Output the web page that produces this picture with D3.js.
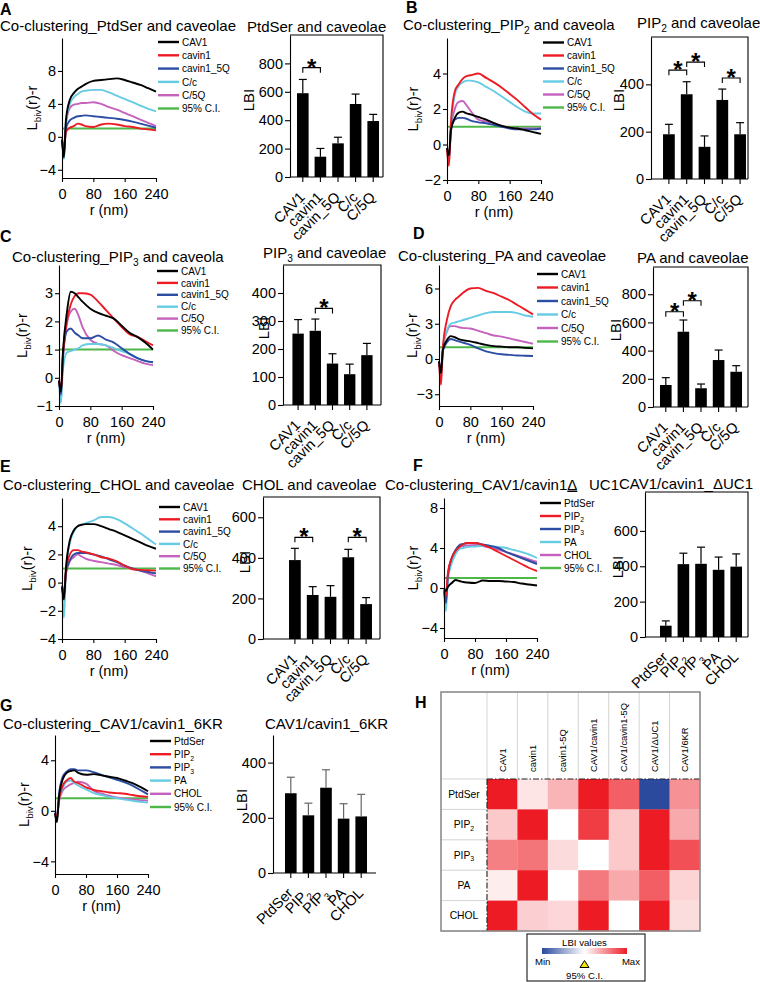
<!DOCTYPE html>
<html><head><meta charset="utf-8">
<script src="https://cdnjs.cloudflare.com/ajax/libs/d3/7.8.5/d3.min.js"></script>
<style>body{margin:0;background:#fff} svg{display:block}</style>
</head><body><svg id="c" width="760" height="982"></svg>
<script>
// ---------------- DATA ----------------
const R_NM = [0,5,10,20,30,40,50,60,80,100,120,140,160,180,200,220,240];
const CI_LEVEL = 1;
const xTicksLine = [0,80,160,240];
const cavLegend = ["CAV1","cavin1","cavin1_5Q","C/c","C/5Q"];
const lipLegend = ["PtdSer","PIP{2}","PIP{3}","PA","CHOL"];
const ciLabel = "95% C.I.";
const cavBarCats = ["CAV1","cavin1","cavin_5Q","C/c","C/5Q"];
const lipBarCats = ["PtdSer","PIP{2}","PIP{3}","PA","CHOL"];

const lineA = [
 [-0.4,-2.5,2.0,4.5,5.3,5.8,6.1,6.4,6.8,6.9,7.0,7.1,6.9,6.6,6.3,5.9,5.5],
 [-0.2,-1.5,0.6,1.1,1.3,1.6,1.5,1.3,1.2,1.5,1.6,1.5,1.3,1.2,1.0,0.9,0.8],
 [-0.3,-2.0,1.0,2.0,2.3,2.5,2.55,2.6,2.5,2.4,2.3,2.2,2.05,1.85,1.6,1.35,1.1],
 [-0.5,-2.7,1.8,4.0,4.8,5.2,5.5,5.6,5.7,5.7,5.4,5.0,4.6,4.2,3.8,3.4,3.1],
 [-0.3,-2.0,1.5,3.5,3.9,4.0,4.1,4.1,4.2,4.0,3.6,3.3,2.9,2.5,2.1,1.7,1.3]];
const lineB = [
 [-0.2,-0.6,0.8,1.5,1.8,1.85,1.75,1.7,1.55,1.4,1.2,1.05,0.95,0.9,0.8,0.7,0.6],
 [-0.3,-1.2,1.2,3.0,3.4,3.7,3.85,3.9,4.0,3.75,3.5,3.2,2.85,2.5,2.1,1.7,1.4],
 [-0.2,-0.8,0.8,1.4,1.5,1.5,1.45,1.35,1.25,1.2,1.1,1.0,0.9,0.85,0.85,0.85,0.9],
 [-0.3,-1.0,1.0,2.8,3.3,3.5,3.6,3.6,3.5,3.25,3.0,2.7,2.4,2.1,1.85,1.75,1.75],
 [-0.2,-0.8,0.9,2.0,2.4,2.45,2.2,1.9,1.4,1.3,1.2,1.05,0.95,0.9,0.9,0.9,0.9]];
const lineC = [
 [-0.1,-0.5,0.9,2.3,3.05,3.0,2.85,2.7,2.45,2.3,2.2,2.1,1.85,1.6,1.45,1.25,1.0],
 [-0.1,-0.5,0.8,2.0,2.6,2.9,3.0,3.0,2.95,2.7,2.4,2.1,1.8,1.55,1.45,1.3,1.15],
 [-0.1,-0.6,0.7,1.65,1.75,1.6,1.5,1.4,1.4,1.5,1.35,1.25,1.05,0.85,0.7,0.6,0.55],
 [-0.1,-0.9,0.3,0.9,0.95,1.0,1.05,1.15,1.2,1.2,1.15,1.05,0.95,0.85,0.7,0.6,0.55],
 [-0.1,-0.6,0.7,1.9,2.35,2.45,2.2,1.8,1.35,1.2,1.15,0.95,0.8,0.7,0.6,0.5,0.45]];
const lineD = [
 [-0.2,-1.2,0.8,1.6,1.95,1.85,1.7,1.6,1.5,1.35,1.2,1.1,1.05,1.0,1.0,0.95,0.9],
 [-0.3,-2.2,1.0,3.3,4.5,5.0,5.3,5.6,6.0,6.05,5.8,5.6,5.3,5.0,4.6,4.2,3.8],
 [-0.2,-1.0,0.7,1.4,1.7,1.6,1.5,1.4,1.2,0.9,0.65,0.5,0.4,0.35,0.3,0.28,0.25],
 [-0.2,-1.5,1.0,2.4,3.0,3.1,3.2,3.3,3.5,3.7,3.9,4.0,4.0,4.0,3.9,3.7,3.6],
 [-0.2,-1.2,0.9,2.3,2.8,2.8,2.7,2.65,2.6,2.4,2.2,2.0,1.9,1.75,1.6,1.45,1.3]];
const lineE = [
 [-0.3,-1.2,1.0,3.0,3.7,4.0,4.1,4.15,4.15,4.0,3.8,3.6,3.35,3.1,2.85,2.6,2.4],
 [-0.2,-0.8,0.8,2.0,2.3,2.3,2.2,2.15,2.0,1.8,1.7,1.5,1.2,0.95,0.9,0.88,0.85],
 [-0.3,-1.0,0.7,1.6,2.0,2.1,2.1,2.1,2.0,1.85,1.65,1.45,1.2,1.0,0.85,0.75,0.65],
 [-0.4,-2.5,0.8,2.8,3.6,4.0,4.1,4.2,4.4,4.65,4.65,4.5,4.2,3.85,3.5,3.1,2.7],
 [-0.2,-0.7,0.6,1.5,1.8,2.0,1.85,1.7,1.55,1.45,1.35,1.25,1.1,1.0,0.85,0.65,0.45]];
const lineF = [
 [0.0,-0.3,0.1,0.5,0.8,0.7,0.6,0.55,0.5,0.75,0.7,0.7,0.65,0.6,0.45,0.35,0.25],
 [-0.2,-0.8,1.5,3.0,3.7,4.1,4.4,4.5,4.5,4.3,4.0,3.6,3.2,2.8,2.4,2.0,1.7],
 [-0.3,-1.5,1.2,3.0,3.8,4.3,4.4,4.5,4.5,4.35,4.2,4.0,3.6,3.3,3.0,2.7,2.4],
 [-0.4,-2.3,0.8,2.5,3.4,3.9,4.0,4.1,4.15,4.2,4.2,4.1,4.0,3.8,3.6,3.35,3.0],
 [-0.3,-1.2,1.2,3.0,3.8,4.1,4.2,4.25,4.3,4.2,4.05,3.85,3.6,3.35,3.1,2.85,2.6]];
const lineG = [
 [-0.2,-0.9,1.0,2.5,3.0,3.15,3.2,3.0,2.85,2.9,2.8,2.7,2.6,2.4,2.2,1.9,1.55],
 [-0.2,-0.5,0.8,2.0,2.4,2.6,2.3,2.2,1.85,1.65,1.55,1.45,1.4,1.35,1.25,1.15,1.1],
 [-0.2,-0.8,1.2,2.7,3.1,3.3,3.3,3.2,3.2,3.05,2.85,2.65,2.45,2.25,2.0,1.65,1.3],
 [-0.1,-0.4,0.8,1.8,2.3,2.4,2.2,2.0,1.7,1.4,1.25,1.1,1.0,0.9,0.8,0.72,0.65],
 [-0.1,-0.4,0.7,1.6,1.9,2.1,2.2,2.3,2.15,1.6,1.35,1.2,1.05,0.95,0.9,0.85,0.8]];

const barA = [590,143,237,514,394], errA = [97,58,43,70,47], sigA = [[0,1,770]];
const barB = [189,358,136,334,189], errB = [42,53,46,46,49], sigB = [[0,1,460],[1,2,494],[3,4,427]];
const barC = [255,265,148,110,178], errC = [50,42,35,36,42], sigC = [[1,2,345]];
const barD = [156,534,133,333,250], errD = [52,83,30,71,43], sigD = [[0,1,676],[1,2,754]];
const barE = [389,217,208,403,172], errE = [58,41,55,39,32], sigE = [[0,1,501],[3,4,501]];
const barF = [64,412,414,380,398], errF = [27,62,94,72,72], sigF = [];
const barG = [289,209,309,197,205], errG = [58,44,65,54,80], sigG = [];

const hmCols = ["CAV1","cavin1","cavin1-5Q","CAV1/cavin1","CAV1/cavin1-5Q","CAV1/\u0394UC1","CAV1/6KR"];
const hmRows = ["PtdSer","PIP{2}","PIP{3}","PA","CHOL"];
const hmPtdSer = [1.00,0.12,0.33,1.00,0.70,-1.00,0.48];
const hmPIP2   = [0.24,1.00,0.00,0.86,0.24,1.00,0.38];
const hmPIP3   = [0.56,0.61,0.16,0.00,0.24,1.00,0.77];
const hmPA     = [0.08,1.00,0.00,0.59,0.38,0.71,0.19];
const hmCHOL   = [1.00,0.21,0.18,1.00,0.00,1.00,0.15];

// ---------------- STYLE ----------------
const FONT = '"Liberation Sans", Arial, Helvetica, sans-serif';
const seriesColors = ["#000000","#ED1C24","#2B4DA2","#66CCE4","#C462BD"];
const ciColor = "#4DB848";
const svg = d3.select('#c').attr('font-family', FONT);

function rich(sel, str, fs) {
  const parts = str.split(/(\{[^}]*\}|\[[^\]]*\])/).filter(s => s.length);
  let sub = false;
  parts.forEach(p => {
    let t;
    if (p[0] === '{') {
      t = sel.append('tspan').attr('font-size', fs * 0.68).attr('dy', fs * 0.28).text(p.slice(1, -1));
      sub = true;
    } else {
      if (p[0] === '[') t = sel.append('tspan').attr('text-decoration', 'underline').text(p.slice(1, -1));
      else t = sel.append('tspan').text(p);
      if (sub) { t.attr('dy', -fs * 0.28); sub = false; }
    }
  });
  return sel;
}
function text(g, x, y, str, fs, opts = {}) {
  const t = g.append('text').attr('x', x).attr('y', y).attr('font-size', fs).attr('fill', '#000')
    .style('white-space', 'pre');
  if (opts.anchor) t.attr('text-anchor', opts.anchor);
  if (opts.weight) t.attr('font-weight', opts.weight);
  if (opts.transform) t.attr('transform', opts.transform);
  return rich(t, str, fs);
}
function styleAxis(g, fs) {
  g.attr('font-family', FONT).attr('font-size', fs);
  g.selectAll('path.domain').attr('stroke', '#000').attr('stroke-width', 1.1);
  g.selectAll('.tick line').attr('stroke', '#000').attr('stroke-width', 1.1);
  g.selectAll('.tick text').attr('fill', '#000');
}

// ---------------- LINE PANELS ----------------
function lineChart(c, series, names) {
  const g = svg.append('g');
  const x = d3.scaleLinear().domain([0, 240]).range([c.x0, c.x1]);
  const y = d3.scaleLinear().domain(c.yDom).range([c.y1, c.y0]);
  const line = d3.line().x((d, i) => x(R_NM[i])).y(d => y(d)).curve(d3.curveMonotoneX);
  g.append('path').attr('d', d3.line()([[x(0), y(CI_LEVEL)], [x(240), y(CI_LEVEL)]]))
    .attr('stroke', ciColor).attr('stroke-width', 2).attr('fill', 'none');
  for (let i = series.length - 1; i >= 0; i--) {
    g.append('path').attr('d', line(series[i])).attr('fill', 'none')
      .attr('stroke', seriesColors[i]).attr('stroke-width', 1.9).attr('stroke-linejoin', 'round');
  }
  const ax = g.append('g').attr('transform', `translate(${c.x0},0)`)
    .call(d3.axisLeft(y).tickValues(c.yTicks).tickSize(4).tickSizeOuter(0).tickPadding(2).tickFormat(d3.format('d')));
  styleAxis(ax, 14.5);
  const bx = g.append('g').attr('transform', `translate(0,${c.y1})`)
    .call(d3.axisBottom(x).tickValues(xTicksLine).tickSize(4).tickSizeOuter(0).tickPadding(7));
  styleAxis(bx, 14.5);
  const all = names.concat([ciLabel]);
  const cols = seriesColors.concat([ciColor]);
  all.forEach((n, i) => {
    const yy = c.legY + i * c.legDy;
    g.append('line').attr('x1', c.legX).attr('x2', c.legX + 21).attr('y1', yy).attr('y2', yy)
      .attr('stroke', cols[i]).attr('stroke-width', 2.4);
    text(g, c.legX + 24, yy + 3.6, n, 10);
  });
  text(g, c.tx, c.ty, c.title, 15);
  text(g, c.lx, c.ly, c.letter, 16, { weight: 'bold' });
  text(g, (c.x0 + c.x1) / 2, c.y1 + 37, 'r (nm)', 14.5, { anchor: 'middle' });
  text(g, 0, 0, 'L{biv}(r)-r', 14.5, { anchor: 'middle', transform: `translate(${c.ylx + 5},${(c.y0 + c.y1) / 2}) rotate(-90)` });
}

// ---------------- BAR PANELS ----------------
function barChart(c, cats, vals, errs, sigs) {
  const g = svg.append('g');
  const x = d3.scalePoint().domain(d3.range(cats.length)).range(c.xr).padding(0.5);
  const bw = x.step() * 0.66;
  const y = d3.scaleLinear().domain([0, c.ymax]).range([c.y1, c.y0]);
  if (c.box) {
    g.append('path').attr('d', d3.line()([[c.ax, c.y0], [c.right, c.y0], [c.right, c.y1]]))
      .attr('fill', 'none').attr('stroke', '#000').attr('stroke-width', 1.1);
  }
  g.selectAll('rect.bar').data(vals).enter().append('rect')
    .attr('x', (d, i) => x(i) - bw / 2).attr('y', d => y(d)).attr('width', bw).attr('height', d => y(0) - y(d))
    .attr('fill', '#000');
  const ec = c.errColor || '#000';
  vals.forEach((v, i) => {
    g.append('line').attr('x1', x(i)).attr('x2', x(i)).attr('y1', y(v)).attr('y2', y(v + errs[i]))
      .attr('stroke', ec).attr('stroke-width', 1.2);
    g.append('line').attr('x1', x(i) - 4).attr('x2', x(i) + 4).attr('y1', y(v + errs[i])).attr('y2', y(v + errs[i]))
      .attr('stroke', ec).attr('stroke-width', 1.2);
  });
  const ay = g.append('g').attr('transform', `translate(${c.ax},0)`)
    .call(d3.axisLeft(y).tickValues(c.yTicks).tickSize(5).tickSizeOuter(0).tickPadding(2));
  styleAxis(ay, 14.5);
  g.append('line').attr('x1', c.ax).attr('x2', c.right).attr('y1', c.y1).attr('y2', c.y1)
    .attr('stroke', '#000').attr('stroke-width', 1.1);
  cats.forEach((n, i) => {
    g.append('line').attr('x1', x(i)).attr('x2', x(i)).attr('y1', c.y1).attr('y2', c.y1 + 5)
      .attr('stroke', '#000').attr('stroke-width', 1.1);
    text(g, 0, 0, n, 14.5, { anchor: 'end', transform: `translate(${x(i) + 3},${c.y1 + 21}) rotate(-45)` });
  });
  sigs.forEach(s => {
    const yy = y(s[2]), xa = x(s[0]), xb = x(s[1]);
    g.append('path').attr('d', d3.line()([[xa, yy + 5], [xa, yy], [xb, yy], [xb, yy + 5]]))
      .attr('fill', 'none').attr('stroke', '#000').attr('stroke-width', 1.1);
    text(g, (xa + xb) / 2, yy + 8, '*', 24, { anchor: 'middle', weight: 'bold' });
  });
  text(g, c.tx, c.ty, c.title, 15);
  text(g, 0, 0, 'LBI', 15, { anchor: 'middle', transform: `translate(${c.lbx + 5.5},${c.lby}) rotate(-90)` });
}

// ---------------- PANELS ----------------
lineChart({x0:62,x1:156,y0:38,y1:178,yDom:[-5,12],yTicks:[-4,0,4,8],legX:158,legY:42,legDy:13.3,
  tx:0,ty:31,title:'Co-clustering_PtdSer and caveolae',lx:0,ly:14.5,letter:'A',ylx:32}, lineA, cavLegend);
barChart({ax:290,right:383,y0:35,y1:177,ymax:1000,yTicks:[0,200,400,600,800],xr:[294,382],box:true,
  tx:247,ty:32,title:'PtdSer and caveolae',lbx:248,lby:100}, cavBarCats, barA, errA, sigA);

lineChart({x0:447,x1:541,y0:38,y1:180,yDom:[-2,6],yTicks:[-2,0,2,4],legX:543,legY:42.5,legDy:13,
  tx:403,ty:29.5,title:'Co-clustering_PIP{2} and caveola',lx:406,ly:13,letter:'B',ylx:413}, lineB, cavLegend);
barChart({ax:651,right:748,y0:37,y1:179,ymax:600,yTicks:[0,200,400],xr:[660,749],box:true,
  tx:637,ty:28,title:'PIP{2} and caveolae',lbx:618,lby:100}, cavBarCats, barB, errB, sigB);

lineChart({x0:59,x1:153,y0:265,y1:406,yDom:[-1,4],yTicks:[-1,0,1,2,3],legX:157,legY:271,legDy:11.9,
  tx:12,ty:262,title:'Co-clustering_PIP{3} and caveola',lx:0,ly:242,letter:'C',ylx:22}, lineC, cavLegend);
barChart({ax:283,right:381,y0:265,y1:405,ymax:500,yTicks:[0,100,200,300,400],xr:[289.5,375.5],box:true,
  tx:263,ty:258,title:'PIP{3} and caveolae',lbx:263,lby:328}, cavBarCats, barC, errC, sigC);

lineChart({x0:439,x1:533,y0:265,y1:406,yDom:[-4,8],yTicks:[-3,0,3,6],legX:537,legY:274,legDy:13.5,
  tx:398,ty:261,title:'Co-clustering_PA and caveolae',lx:413,ly:239,letter:'D',ylx:412}, lineD, cavLegend);
barChart({ax:653,right:748,y0:267,y1:407,ymax:993,yTicks:[0,200,400,600,800],xr:[657,745],box:true,
  tx:637,ty:263,title:'PA and caveolae',lbx:615,lby:330}, cavBarCats, barD, errD, sigD);

lineChart({x0:62,x1:156,y0:498,y1:639,yDom:[-4,6],yTicks:[-4,-2,0,2,4],legX:159,legY:507,legDy:12.3,
  tx:3,ty:490,title:'Co-clustering_CHOL and caveolae',lx:0,ly:472,letter:'E',ylx:27}, lineE, cavLegend);
barChart({ax:263,right:380,y0:497,y1:639,ymax:700,yTicks:[0,200,400,600],xr:[286,375],box:true,
  tx:242,ty:490,title:'CHOL and caveolae',lbx:244,lby:562}, cavBarCats, barE, errE, sigE);

lineChart({x0:444,x1:537,y0:498,y1:638,yDom:[-5,9],yTicks:[-4,0,4,8],legX:540,legY:503,legDy:13,
  tx:385,ty:489.5,title:'Co-clustering_CAV1/cavin1[\u0394]\u2002 UC1',lx:413,ly:471,letter:'F',ylx:413}, lineF, lipLegend);
barChart({ax:645,right:748,y0:492,y1:637,ymax:820,yTicks:[0,200,400,600],xr:[657,745],box:true,
  tx:619,ty:489,title:'CAV1/cavin1_\u0394UC1',lbx:617,lby:567}, lipBarCats, barF, errF, sigF);

lineChart({x0:55,x1:148,y0:735,y1:874,yDom:[-5,6],yTicks:[-4,0,4],legX:150,legY:741,legDy:13.2,
  tx:3,ty:729,title:'Co-clustering_CAV1/cavin1_6KR',lx:0,ly:711,letter:'G',ylx:24}, lineG, lipLegend);
barChart({ax:273,right:376,y0:735,y1:873,ymax:500,yTicks:[0,200,400],xr:[282,370],box:false,errColor:'#666',
  tx:265,ty:729,title:'CAV1/cavin1_6KR',lbx:241,lby:800}, lipBarCats, barG, errG, sigG);

// ---------------- HEATMAP (H) ----------------
(function () {
  const g = svg.append('g');
  const T = {x0:441, x1:700, y0:692, y1:931, hx:487, hy:779};
  const matrix = [hmPtdSer, hmPIP2, hmPIP3, hmPA, hmCHOL];
  const color = d3.scaleLinear().domain([-1, 0, 1]).range(['#2B4A9E', '#ffffff', '#ED1C24']);
  const xs = d3.scaleBand().domain(hmCols).range([T.hx, T.x1]);
  const ys = d3.scaleBand().domain(hmRows).range([T.hy, T.y1]);
  matrix.forEach((row, ri) => row.forEach((v, ci) => {
    g.append('rect').attr('x', xs(hmCols[ci])).attr('y', ys(hmRows[ri]))
      .attr('width', xs.bandwidth() + 0.3).attr('height', ys.bandwidth() + 0.3).attr('fill', color(v));
  }));
  hmCols.forEach(c => {
    g.append('line').attr('x1', xs(c) + xs.bandwidth()).attr('x2', xs(c) + xs.bandwidth())
      .attr('y1', T.y0).attr('y2', T.hy).attr('stroke', '#c8c8c8').attr('stroke-width', 0.8);
  });
  hmRows.forEach(r => {
    g.append('line').attr('x1', T.x0).attr('x2', T.hx).attr('y1', ys(r) + ys.bandwidth()).attr('y2', ys(r) + ys.bandwidth())
      .attr('stroke', '#c8c8c8').attr('stroke-width', 0.8);
  });
  g.append('line').attr('x1', T.x0).attr('x2', T.hx).attr('y1', T.hy).attr('y2', T.hy).attr('stroke', '#c8c8c8').attr('stroke-width', 0.8);
  g.append('line').attr('x1', T.hx).attr('x2', T.hx).attr('y1', T.y0).attr('y2', T.hy).attr('stroke', '#c8c8c8').attr('stroke-width', 0.8);
  g.append('line').attr('x1', T.hx).attr('x2', T.x1).attr('y1', T.hy).attr('y2', T.hy)
    .attr('stroke', '#222').attr('stroke-width', 1.1).attr('stroke-dasharray', '6,2,1.5,2');
  g.append('line').attr('x1', T.hx).attr('x2', T.hx).attr('y1', T.hy).attr('y2', T.y1)
    .attr('stroke', '#222').attr('stroke-width', 1.1).attr('stroke-dasharray', '6,2,1.5,2');
  g.append('rect').attr('x', T.x0).attr('y', T.y0).attr('width', T.x1 - T.x0).attr('height', T.y1 - T.y0)
    .attr('fill', 'none').attr('stroke', '#8c8c8c').attr('stroke-width', 1.6);
  hmCols.forEach(c => {
    text(g, 0, 0, c, 9.4, { transform: `translate(${xs(c) + xs.bandwidth() / 2 + 3.3},${T.hy - 7}) rotate(-90)` });
  });
  hmRows.forEach(r => {
    text(g, (T.x0 + T.hx) / 2, ys(r) + ys.bandwidth() / 2 + 3.6, r, 10.3, { anchor: 'middle' });
  });
  text(g, 415, 708, 'H', 16, { weight: 'bold' });
  const L = {x0:527, x1:645, y0:934, y1:981, gx0:542, gx1:627, gy:948, gh:6};
  g.append('rect').attr('x', L.x0).attr('y', L.y0).attr('width', L.x1 - L.x0).attr('height', L.y1 - L.y0)
    .attr('fill', '#fff').attr('stroke', '#000').attr('stroke-width', 1);
  const grad = svg.append('defs').append('linearGradient').attr('id', 'lbig');
  [[0, -1], [0.5, 0], [1, 1]].forEach(s => grad.append('stop').attr('offset', s[0]).attr('stop-color', color(s[1])));
  g.append('rect').attr('x', L.gx0).attr('y', L.gy).attr('width', L.gx1 - L.gx0).attr('height', L.gh).attr('fill', 'url(#lbig)');
  const mid = (L.gx0 + L.gx1) / 2;
  text(g, mid, 945.5, 'LBI values', 9.6, { anchor: 'middle' });
  text(g, 535, 965, 'Min', 9.6);
  text(g, 640, 965, 'Max', 9.6, { anchor: 'end' });
  g.append('path').attr('d', d3.line()([[mid, 960.5], [mid - 4.5, 967.5], [mid + 4.5, 967.5]]) + 'Z')
    .attr('fill', '#F3E500').attr('stroke', '#000').attr('stroke-width', 1);
  text(g, mid, 979, '95% C.I.', 9.6, { anchor: 'middle' });
})();
</script>
</body></html>
